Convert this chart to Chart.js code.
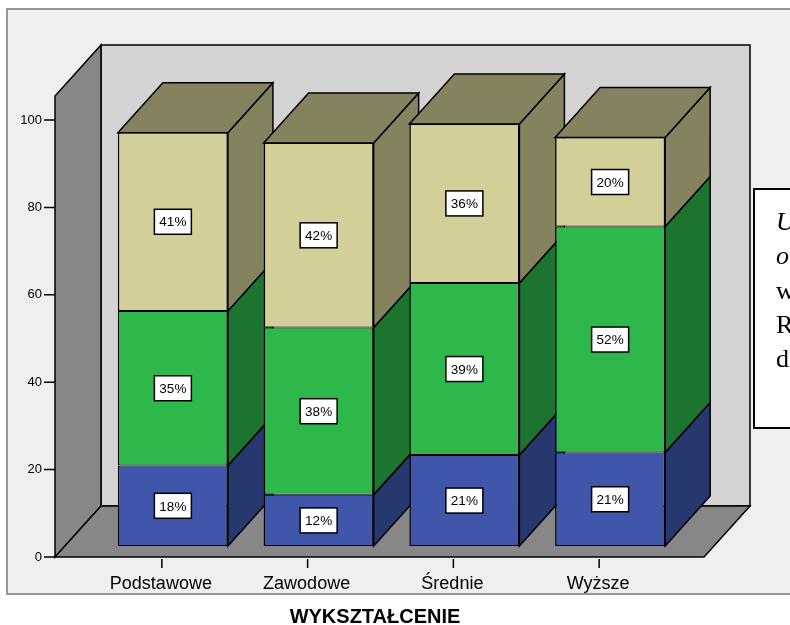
<!DOCTYPE html>
<html>
<head>
<meta charset="utf-8">
<script src="https://cdn.jsdelivr.net/npm/chart.js@4"></script>
<style>
  body { margin: 0; background: #fff; }
  #wrap { width: 790px; height: 625px; }
</style>
</head>
<body>
<div id="wrap"><canvas id="myChart" width="790" height="625"></canvas></div>
<script>
// dane z wykresu (procenty w ramach grupy)
const categories = ['Podstawowe', 'Zawodowe', 'Średnie', 'Wyższe'];
const seriesBlue = [18.4, 11.7, 20.8, 21.4];
const seriesGreen = [35.4, 38.3, 39.4, 51.7];
const seriesYellow = [40.8, 42.2, 36.4, 20.4];
const yMax = 105.5;
const yStep = 20;
const axisTitle = 'WYKSZTAŁCENIE';
const legendLines = ['U', 'o', 'w', 'R', 'd'];

const FONT = "'Liberation Sans', Arial, sans-serif";
const fronts = ['#4056aa', '#2eb84c', '#d3cf99'];
const sides = ['#26386e', '#1d7430', '#85825f'];

// przesuniecia 3D
const DX = 45, DY = -50;        // glebokosc slupka
const PX = -11, PY = 11;        // plaszczyzna osi wzgledem slupkow
const WX = 46, WY = -51;        // glebokosc scian

function poly(ctx, pts, fill) {
    ctx.beginPath();
    ctx.moveTo(pts[0][0], pts[0][1]);
    for (let i = 1; i < pts.length; i++) ctx.lineTo(pts[i][0], pts[i][1]);
    ctx.closePath();
    ctx.fillStyle = fill;
    ctx.fill();
    ctx.stroke();
}

const scene3d = {
    id: 'scene3d',
    beforeDraw(chart) {
        const ctx = chart.ctx;
        const a = chart.chartArea;
        const y = chart.scales.y, x = chart.scales.x;
        ctx.save();
        // ramka
        ctx.fillStyle = '#efefef';
        ctx.fillRect(7, 9, 800, 585);
        ctx.strokeStyle = '#777';
        ctx.lineWidth = 1.5;
        ctx.strokeRect(7, 9, 800, 585);

        const fl = a.left + PX - 34, fr = a.right + 21;
        const fb = y.getPixelForValue(0) + PY, ft = y.getPixelForValue(yMax) + PY;
        ctx.strokeStyle = '#000';
        ctx.lineWidth = 1.5;
        ctx.lineJoin = 'miter';
        // tylna sciana
        poly(ctx, [[fl + WX, ft + WY], [fr + WX, ft + WY], [fr + WX, fb + WY], [fl + WX, fb + WY]], '#d3d3d3');
        // lewa sciana
        poly(ctx, [[fl, fb], [fl, ft], [fl + WX, ft + WY], [fl + WX, fb + WY]], '#878787');
        // podloga
        poly(ctx, [[fl, fb], [fr, fb], [fr + WX, fb + WY], [fl + WX, fb + WY]], '#878787');

        // znaczniki osi
        ctx.beginPath();
        for (let v = 0; v <= 100; v += yStep) {
            const py = y.getPixelForValue(v) + PY;
            ctx.moveTo(fl - 11, py);
            ctx.lineTo(fl, py);
        }
        categories.forEach((c, i) => {
            const px = x.getPixelForValue(i) + PX;
            ctx.moveTo(px, fb + 2);
            ctx.lineTo(px, fb + 11);
        });
        ctx.stroke();
        ctx.restore();
    },
    beforeDatasetsDraw(chart) {
        const ctx = chart.ctx;
        const n = chart.data.datasets.length;
        ctx.save();
        ctx.strokeStyle = '#000';
        ctx.lineWidth = 1.5;
        categories.forEach((c, i) => {
            for (let d = 0; d < n; d++) {
                const el = chart.getDatasetMeta(d).data[i];
                const r = el.x + el.width / 2, l = el.x - el.width / 2;
                poly(ctx, [[r, el.base], [r, el.y], [r + DX, el.y + DY], [r + DX, el.base + DY]], sides[d]);
                if (d === n - 1) {
                    poly(ctx, [[l, el.y], [r, el.y], [r + DX, el.y + DY], [l + DX, el.y + DY]], sides[d]);
                }
            }
        });
        ctx.restore();
    },
    afterDatasetsDraw(chart) {
        const ctx = chart.ctx;
        ctx.save();
        ctx.font = '13.5px ' + FONT;
        ctx.textAlign = 'center';
        ctx.textBaseline = 'middle';
        chart.data.datasets.forEach((ds, d) => {
            chart.getDatasetMeta(d).data.forEach((el, i) => {
                const cx = el.x, cy = (el.y + el.base) / 2;
                ctx.fillStyle = '#fff';
                ctx.fillRect(cx - 18.5, cy - 12.5, 37, 25);
                ctx.strokeStyle = '#000';
                ctx.lineWidth = 1.5;
                ctx.strokeRect(cx - 18.5, cy - 12.5, 37, 25);
                ctx.fillStyle = '#000';
                ctx.fillText(Math.round(ds.data[i]) + '%', cx, cy + 1);
            });
        });
        ctx.restore();
    },
    afterDraw(chart) {
        const ctx = chart.ctx;
        ctx.save();
        // tytul osi
        ctx.fillStyle = '#000';
        ctx.font = 'bold 20px ' + FONT;
        ctx.textAlign = 'center';
        ctx.textBaseline = 'middle';
        ctx.fillText(axisTitle, 375, 617);
        // ucieta legenda
        ctx.fillStyle = '#fff';
        ctx.fillRect(754, 189, 60, 239);
        ctx.strokeStyle = '#000';
        ctx.lineWidth = 2;
        ctx.strokeRect(754, 189, 60, 239);
        ctx.fillStyle = '#000';
        ctx.textAlign = 'left';
        legendLines.forEach((t, i) => {
            ctx.font = (i < 2 ? 'italic ' : '') + "26px 'Liberation Serif', 'Times New Roman', serif";
            ctx.fillText(t, 776, 223 + i * 34.4);
        });
        ctx.restore();
    }
};

const ctx = document.getElementById('myChart').getContext('2d');

const myChart = new Chart(ctx, {
    type: 'bar',
    data: {
        labels: categories,
        datasets: [seriesBlue, seriesGreen, seriesYellow].map((s, d) => ({
            data: s,
            backgroundColor: fronts[d],
            borderColor: '#000',
            borderWidth: { left: 1.5, right: 1.5, top: 1, bottom: 1 },
            borderSkipped: false,
            barPercentage: 0.755,
            categoryPercentage: 1
        }))
    },
    options: {
        responsive: false,
        animation: false,
        layout: { padding: { left: 0, top: 85, right: 107, bottom: 0 } },
        plugins: { legend: { display: false }, tooltip: { enabled: false } },
        scales: {
            x: {
                stacked: true,
                grid: { display: false, drawTicks: false },
                border: { display: false },
                ticks: { color: '#000', font: { family: FONT, size: 18 }, padding: 27, labelOffset: -12, maxRotation: 0 },
                afterFit: s => { s.height = 79; }
            },
            y: {
                stacked: true,
                min: 0,
                max: yMax,
                grid: { display: false, drawTicks: false },
                border: { display: false },
                ticks: { stepSize: yStep, includeBounds: false, color: '#000', font: { family: FONT, size: 13 }, padding: 58, labelOffset: 11 },
                afterFit: s => { s.width = 100; }
            }
        }
    },
    plugins: [scene3d]
});
</script>
</body>
</html>
